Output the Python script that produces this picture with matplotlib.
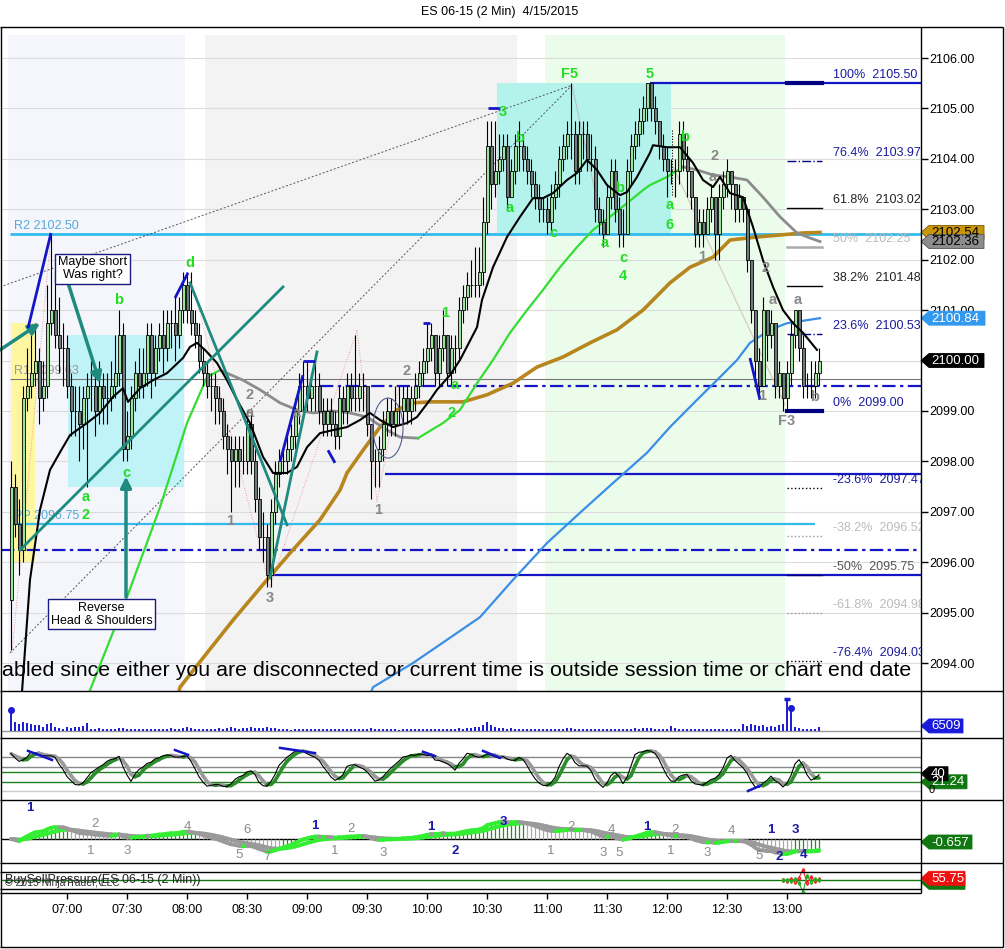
import numpy as np
import pandas as pd
import matplotlib
matplotlib.use('Agg')
import matplotlib.pyplot as plt
from matplotlib.collections import LineCollection
from matplotlib.patches import Rectangle, Ellipse, Polygon
import matplotlib.transforms as mtrans

plt.rcParams['font.family'] = ['Liberation Sans', 'DejaVu Sans']

# ------------------------------------------------------------------ data
title = "ES 06-15 (2 Min)  4/15/2015"
bar_start_min = 6 * 60 + 32          # first bar 06:32
bar_step_min = 2
first_open = 2095.25
closes = [
    2097.5, 2096.75, 2096.25, 2099.25, 2099.5, 2099.75, 2100.0, 2099.25, 2099.5, 2100.75,
    2101.0, 2100.5, 2100.25, 2100.25, 2099.5, 2099.0, 2099.0, 2098.75, 2099.25, 2099.5,
    2099.5, 2099.0, 2099.5, 2099.25, 2099.25, 2099.5, 2099.75, 2100.5, 2098.25, 2098.5,
    2099.25, 2099.75, 2099.5, 2099.75, 2100.5, 2099.75, 2100.25, 2100.5, 2100.25, 2100.75,
    2100.75, 2100.5, 2101.0, 2101.5, 2101.0, 2100.75, 2100.5, 2100.0, 2099.75, 2099.5,
    2099.5, 2099.25, 2099.0, 2098.5, 2098.25, 2098.0, 2098.25, 2098.0, 2098.0, 2098.75,
    2098.0, 2097.25, 2096.5, 2096.5, 2095.75, 2097.0, 2097.75, 2098.0, 2098.0, 2098.25,
    2098.5, 2099.0, 2099.5, 2099.5, 2099.25, 2099.5, 2099.5, 2099.0, 2098.75, 2099.0,
    2098.75, 2098.5, 2099.25, 2099.0, 2099.5, 2099.25, 2099.25, 2099.5, 2099.5, 2098.75,
    2098.0, 2098.0, 2098.25, 2098.75, 2099.0, 2098.75, 2099.0, 2099.0, 2099.25, 2099.0,
    2099.25, 2099.5, 2099.75, 2100.0, 2100.25, 2100.5, 2099.75, 2100.25, 2100.5, 2099.75,
    2100.25, 2100.25, 2101.0, 2101.25, 2101.5, 2101.5, 2101.5, 2101.75, 2102.75, 2104.25,
    2103.5, 2103.75, 2104.0, 2104.25, 2103.25, 2103.75, 2104.25, 2104.25, 2104.0, 2103.75,
    2103.5, 2103.25, 2103.0, 2103.0, 2102.75, 2103.25, 2103.5, 2104.0, 2104.25, 2104.5,
    2104.5, 2103.75, 2104.5, 2104.5, 2104.0, 2104.0, 2103.0, 2102.75, 2102.5, 2103.25,
    2103.75, 2103.0, 2102.5, 2102.5, 2103.75, 2104.25, 2104.5, 2104.75, 2105.0, 2105.5,
    2105.0, 2104.75, 2104.25, 2104.0, 2103.75, 2103.75, 2103.75, 2104.5, 2104.0, 2103.75,
    2103.25, 2102.5, 2102.75, 2102.5, 2103.0, 2103.25, 2102.5, 2103.25, 2103.5, 2103.75,
    2103.5, 2103.0, 2103.25, 2103.0, 2102.0, 2101.0, 2100.0, 2099.5, 2101.0, 2100.5,
    2100.75, 2099.5, 2099.75, 2099.25, 2099.75, 2100.5, 2101.0, 2100.25, 2099.5, 2099.5,
    2099.5, 2099.75, 2100.0,
]
highs = [
    2098.0, 2097.75, 2097.25, 2099.5, 2100.25, 2100.5, 2100.75, 2100.25, 2100.0, 2101.5,
    2102.5, 2101.75, 2101.25, 2100.75, 2100.5, 2099.75, 2099.5, 2099.5, 2099.5, 2099.75,
    2100.0, 2099.75, 2100.0, 2099.75, 2099.75, 2100.0, 2100.5, 2101.0, 2100.75, 2099.0,
    2099.5, 2100.0, 2100.25, 2100.25, 2100.75, 2100.75, 2100.5, 2100.75, 2101.0, 2101.0,
    2101.0, 2101.25, 2101.25, 2101.75, 2101.75, 2101.75, 2101.0, 2100.75, 2100.25, 2100.0,
    2099.75, 2099.75, 2099.5, 2099.25, 2098.75, 2098.5, 2098.5, 2098.5, 2098.5, 2099.0,
    2099.0, 2098.25, 2097.5, 2097.0, 2096.75, 2097.25, 2098.0, 2098.25, 2098.25, 2098.5,
    2098.75, 2099.25, 2099.75, 2100.0, 2100.0, 2099.75, 2100.0, 2099.75, 2099.25, 2099.25,
    2099.25, 2099.0, 2099.5, 2099.5, 2099.75, 2099.75, 2100.5, 2099.75, 2099.75, 2099.5,
    2098.75, 2098.25, 2098.5, 2099.0, 2099.25, 2099.25, 2099.5, 2099.5, 2099.5, 2099.5,
    2099.5, 2099.75, 2100.0, 2100.25, 2100.75, 2100.75, 2100.5, 2100.5, 2101.0, 2100.5,
    2100.5, 2100.5, 2101.25, 2101.5, 2101.75, 2102.0, 2102.25, 2102.25, 2103.25, 2104.75,
    2104.75, 2104.75, 2104.5, 2104.5, 2104.5, 2104.0, 2104.5, 2104.75, 2104.5, 2104.25,
    2104.0, 2103.75, 2103.5, 2103.25, 2103.25, 2103.5, 2103.75, 2104.25, 2104.5, 2104.75,
    2105.5, 2104.75, 2104.75, 2104.75, 2104.75, 2104.5, 2104.25, 2103.25, 2103.0, 2103.5,
    2104.0, 2104.0, 2103.25, 2103.0, 2104.0, 2104.5, 2104.75, 2105.0, 2105.25, 2105.5,
    2105.5, 2105.25, 2104.75, 2104.5, 2104.25, 2104.0, 2104.0, 2104.75, 2104.75, 2104.25,
    2103.75, 2103.25, 2103.0, 2103.0, 2103.25, 2103.5, 2103.25, 2103.5, 2103.75, 2104.0,
    2103.75, 2103.5, 2103.5, 2103.25, 2103.0, 2102.0, 2101.0, 2100.25, 2101.25, 2101.0,
    2101.0, 2100.75, 2100.0, 2099.75, 2100.0, 2100.75, 2101.0, 2101.0, 2100.5, 2099.75,
    2100.0, 2100.0, 2100.25,
]
lows = [
    2094.25, 2096.5, 2095.75, 2096.0, 2099.0, 2099.25, 2099.5, 2098.75, 2099.0, 2099.25,
    2100.5, 2100.25, 2099.75, 2099.5, 2099.25, 2098.5, 2098.5, 2098.0, 2098.25, 2097.5,
    2099.0, 2098.5, 2098.75, 2098.75, 2098.75, 2099.0, 2099.25, 2099.5, 2098.0, 2098.0,
    2098.25, 2099.0, 2099.25, 2099.25, 2099.5, 2099.25, 2099.5, 2100.0, 2099.75, 2100.0,
    2100.25, 2100.0, 2100.25, 2100.75, 2100.75, 2100.5, 2100.25, 2099.75, 2099.5, 2099.25,
    2099.0, 2098.75, 2098.75, 2098.25, 2097.75, 2097.0, 2097.5, 2097.5, 2097.75, 2097.75,
    2097.75, 2097.0, 2096.25, 2096.0, 2095.5, 2095.5, 2096.75, 2097.5, 2097.75, 2097.75,
    2098.0, 2098.25, 2098.75, 2099.0, 2099.0, 2099.0, 2099.0, 2098.75, 2098.5, 2098.5,
    2098.5, 2098.25, 2098.25, 2098.75, 2098.75, 2099.0, 2099.0, 2099.0, 2099.0, 2098.5,
    2097.25, 2097.5, 2097.5, 2098.0, 2098.5, 2098.5, 2098.5, 2098.75, 2098.75, 2098.75,
    2098.75, 2099.0, 2099.25, 2099.5, 2099.75, 2100.0, 2099.5, 2099.5, 2100.0, 2099.5,
    2099.5, 2099.75, 2100.0, 2100.75, 2101.0, 2101.25, 2101.25, 2101.25, 2101.5, 2102.5,
    2103.0, 2103.25, 2103.5, 2103.75, 2103.0, 2103.25, 2103.5, 2103.75, 2103.75, 2103.5,
    2103.25, 2103.0, 2102.75, 2102.75, 2102.5, 2102.5, 2103.0, 2103.25, 2103.75, 2104.0,
    2104.0, 2103.5, 2103.5, 2104.0, 2103.75, 2103.75, 2102.75, 2102.5, 2102.25, 2102.5,
    2103.0, 2102.75, 2102.25, 2102.25, 2102.5, 2103.5, 2104.0, 2104.25, 2104.5, 2104.75,
    2104.75, 2104.5, 2104.0, 2103.75, 2103.25, 2103.5, 2103.25, 2103.5, 2103.75, 2103.25,
    2103.0, 2102.25, 2102.25, 2102.25, 2102.5, 2102.75, 2102.0, 2102.0, 2103.0, 2103.25,
    2103.0, 2102.75, 2102.75, 2102.75, 2101.75, 2100.75, 2099.5, 2099.25, 2099.5, 2100.0,
    2100.25, 2099.25, 2099.25, 2099.0, 2099.0, 2099.5, 2100.25, 2100.0, 2099.25, 2099.25,
    2099.25, 2099.25, 2099.5,
]
volumes = [
    34000, 14000, 11000, 14500, 12500, 11000, 9500, 9500, 6500, 11000,
    12500, 6500, 5000, 2500, 6000, 5000, 6000, 6000, 7500, 12500,
    4000, 3500, 4500, 3000, 3500, 4000, 3000, 4500, 5500, 3500,
    3000, 3500, 3000, 3000, 4000, 2500, 3000, 3000, 3500, 3000,
    4500, 3500, 3000, 5000, 6500, 4500, 3500, 3000, 3500, 2500,
    3000, 3500, 4500, 4000, 5500, 6000, 4500, 4000, 5000, 4500,
    7000, 5500, 5000, 5000, 6000, 5500, 4500, 4000, 3500, 3000,
    1500, 2500, 3000, 4000, 3500, 3000, 3500, 2500, 3000, 2500,
    3000, 2500, 3500, 3000, 2500, 3000, 4000, 3000, 2500, 3500,
    4500, 4000, 3500, 3000, 2500, 3000, 2500, 2000, 3000, 2500,
    3000, 2500, 3000, 3500, 3000, 4000, 3500, 3000, 3000, 3500,
    3000, 3500, 4500, 4000, 4500, 5000, 6000, 6500, 9000, 14500,
    10000, 6000, 5000, 4500, 4000, 4500, 3500, 3500, 3000, 3500,
    3000, 3000, 2500, 3500, 3000, 3000, 3500, 3000, 4000, 4500,
    5000, 4000, 3500, 3000, 3500, 3000, 3500, 4000, 3500, 3000,
    4000, 3500, 3000, 3000, 3500, 4000, 4500, 4000, 4500, 5000,
    4500, 4000, 3500, 3500, 3000, 8500, 5000, 3500, 3000, 3500,
    3000, 3500, 3000, 4000, 3000, 3500, 4000, 3500, 3000, 3500,
    4000, 3500, 4000, 11000, 8500, 10500, 9500, 8000, 9000, 6500,
    7500, 6500, 10000, 11500, 51000, 37000, 6500, 4500, 3500, 3000,
    3500, 3000, 6509,
]

# moving averages (time in minutes after midnight, price)
fast_ma_t = [396.5, 401.5, 406.5, 411.5, 416.5, 421.5, 430, 436.5, 443, 448, 450.5, 456.5, 463, 470,
             478, 481.5, 485, 489, 495, 500, 505, 511.5, 518, 523, 530, 535, 540, 546.5, 553, 560,
             566.5, 571.5, 576.5, 583, 590, 595, 601.5, 605, 611.5, 616.5, 625, 627.5, 633, 640,
             646.5, 653, 658, 663, 670, 675, 680, 685, 690, 696.5, 700, 705, 711.5, 713, 720, 726.5,
             733, 738, 743, 746.5, 751.5, 758, 763, 768, 773, 778, 783, 788, 795]
fast_ma_p = [2092.87, 2095.65, 2097.04, 2097.83, 2098.18, 2098.52, 2098.76, 2098.96, 2099.28, 2099.45,
             2099.18, 2099.45, 2099.61, 2099.75, 2100.05, 2100.27, 2100.35, 2100.21, 2099.95, 2099.61,
             2099.22, 2098.76, 2098.09, 2097.77, 2097.77, 2097.89, 2098.28, 2098.56, 2098.62, 2098.68,
             2098.82, 2098.96, 2098.82, 2098.68, 2098.76, 2098.88, 2099.22, 2099.42, 2099.71, 2100.01,
             2100.66, 2101.20, 2101.85, 2102.45, 2102.85, 2103.22, 2103.22, 2103.32, 2103.58, 2103.72,
             2103.98, 2103.78, 2103.48, 2103.28, 2103.34, 2103.64, 2104.12, 2104.27, 2104.23, 2104.23,
             2103.92, 2103.58, 2103.44, 2103.64, 2103.32, 2103.24, 2102.65, 2101.99, 2101.46, 2101.00,
             2100.74, 2100.55, 2100.21]
mid_up1_t = [425.5, 431.5, 450, 466.5, 480, 490, 496.5]
mid_up1_p = [2092.87, 2093.46, 2095.31, 2097.09, 2098.76, 2099.67, 2099.81]
mid_dn1_t = [496.5, 508, 516.5, 526.5, 535, 543, 553, 561.5, 570, 580, 586.5, 595.5]
mid_dn1_p = [2099.81, 2099.61, 2099.42, 2099.16, 2099.02, 2098.96, 2099.0, 2098.96, 2098.88,
             2098.62, 2098.48, 2098.46]
mid_up2_t = [595.5, 608, 616.5, 625, 633, 641.5, 650, 658, 666.5, 675, 683, 691.5, 700, 708, 711.5,
             720, 728]
mid_up2_p = [2098.46, 2098.76, 2099.02, 2099.55, 2100.01, 2100.55, 2101.00, 2101.40, 2101.85,
             2102.25, 2102.59, 2102.85, 2103.12, 2103.38, 2103.48, 2103.64, 2103.84]
mid_dn2_t = [728, 735, 743, 751.5, 760, 768, 776.5, 785, 791.5, 796.5]
mid_dn2_p = [2103.84, 2103.78, 2103.68, 2103.64, 2103.58, 2103.24, 2102.85, 2102.53, 2102.43, 2102.36]
slow_ma_t = [472.5, 476.5, 490, 503, 520, 531.5, 546.5, 556.5, 560, 568, 576.5, 585, 593, 601.5, 618,
             630, 643, 655, 668, 681.5, 695, 708, 721.5, 731.5, 743, 751.5, 765, 776.5, 788, 796.5]
slow_ma_p = [2092.87, 2093.52, 2094.20, 2094.85, 2095.65, 2096.18, 2096.84, 2097.43, 2097.77, 2098.22,
             2098.68, 2099.02, 2099.16, 2099.18, 2099.18, 2099.32, 2099.55, 2099.87, 2100.07, 2100.35,
             2100.61, 2101.00, 2101.54, 2101.85, 2102.05, 2102.39, 2102.45, 2102.49, 2102.53, 2102.54]
long_ma_t = [566.5, 573, 593, 610, 626.5, 643, 660, 676.5, 693, 710, 721.5, 735, 746.5, 755, 761.5,
             771.5, 780, 790, 796.5]
long_ma_p = [2092.87, 2093.52, 2094.00, 2094.46, 2094.91, 2095.65, 2096.38, 2096.98, 2097.57, 2098.17,
             2098.68, 2099.22, 2099.67, 2100.01, 2100.35, 2100.61, 2100.74, 2100.80, 2100.84]

pivots = {"R2": 2102.50, "R1": 2099.63, "PP": 2096.75}
fib_high, fib_low = 2105.50, 2099.00
fib_levels = [1.0, 0.764, 0.618, 0.5, 0.382, 0.236, 0.0, -0.236, -0.382, -0.5, -0.618, -0.764]
time_ticks = ["07:00", "07:30", "08:00", "08:30", "09:00", "09:30", "10:00", "10:30",
              "11:00", "11:30", "12:00", "12:30", "13:00"]
last_tags = {"close": 2100.00, "long": 2100.84, "mid": 2102.36, "slow": 2102.54}
message = ("abled since either you are disconnected or current time is outside session "
           "time or chart end date")

# ------------------------------------------------------------------ derived
n = len(closes)
t = bar_start_min + bar_step_min * np.arange(n)
C = np.array(closes, float)
O = np.concatenate([[first_open], C[:-1]])
Hh = np.maximum(np.array(highs, float), np.maximum(O, C))
Ll = np.minimum(np.array(lows, float), np.minimum(O, C))
V = np.array(volumes, float)

W, H = 1005, 949
fig = plt.figure(figsize=(W / 100, H / 100), dpi=100)
fig.patch.set_facecolor('white')


def rect(x0, y0, x1, y1):
    return [x0 / W, 1 - y1 / H, (x1 - x0) / W, (y1 - y0) / H]


XL = (387.0, 847.0)
ax = fig.add_axes(rect(1, 27, 921, 691))
axv = fig.add_axes(rect(1, 691, 921, 738))
axs = fig.add_axes(rect(1, 738, 921, 800))
axm = fig.add_axes(rect(1, 800, 921, 863))
axb = fig.add_axes(rect(1, 863, 921, 893))
for a in (ax, axv, axs, axm, axb):
    a.set_xlim(*XL)
    for s in a.spines.values():
        s.set_visible(False)
    a.tick_params(left=False, labelleft=False, bottom=False, labelbottom=False)
    a.set_facecolor('white')

PB, PT = 2093.445, 2106.615
ax.set_ylim(PB, PT)
ax.yaxis.tick_right()
yt = np.arange(2094, 2107)
ax.set_yticks(yt)
# the 2100.00 tick label sits under the last-price tag, as in the platform
ax.set_yticklabels(["" if v == 2100 else f"{v:.2f}" for v in yt])
ax.tick_params(axis='y', right=True, labelright=True, direction='out', length=5, width=1,
               pad=1, labelsize=9, colors='black')

TEAL = '#1F8A80'
BLUE = '#1515C8'
NAVY = '#000080'
LGREEN = '#22DD22'
GRAYL = '#888888'

# backgrounds
shade_top = 2106.46
for t0, t1, col in [(390.5, 479, '#F4F6FB'), (489, 645, '#F3F3F3'), (659, 779, '#EBFCEB')]:
    ax.add_patch(Rectangle((t0, PB), t1 - t0, shade_top - PB, fc=col, ec='none', zorder=0.2))
ax.hlines(yt, XL[0], XL[1], color='#DCDCDC', lw=0.8, zorder=0.5)
ax.add_patch(Rectangle((420.5, 2097.5), 58, 3.0, fc='#BFF3F8', ec='none', zorder=0.8))
ax.add_patch(Rectangle((392, 2096.0), 12, 4.74, fc='#FFF7A0', ec='none', zorder=0.8))
ax.add_patch(Rectangle((635, 2102.5), 87, 3.0, fc='#B3F3EC', ec='none', zorder=0.8))

# pivot lines
ax.hlines(pivots["R2"], 391.5, XL[1], color='#33BBEE', lw=2, zorder=1.5)
ax.hlines(pivots["R1"], 391.5, XL[1], color='#777777', lw=0.8, zorder=1.5)
ax.hlines(pivots["PP"], 391.5, 794, color='#33BBEE', lw=1.6, zorder=1.5)
ax.text(393.5, pivots["R2"] + 0.05, f"R2 {pivots['R2']:.2f}", color='#55AADD', fontsize=9,
        va='bottom', ha='left', zorder=1.6)
ax.text(393.5, pivots["R1"] + 0.05, f"R1 {pivots['R1']:.2f}", color='#999999', fontsize=9,
        va='bottom', ha='left', zorder=1.6)
ax.text(393.5, pivots["PP"] + 0.05, f"PP {pivots['PP']:.2f}", color='#55AADD', fontsize=9,
        va='bottom', ha='left', zorder=1.6)

# horizontal support/resistance lines
ax.hlines(2096.25, XL[0], XL[1], color=BLUE, lw=1.6, linestyles=(0, (6, 2, 1.5, 2)), zorder=1.6)
ax.hlines(2099.5, 546.5, XL[1], color=BLUE, lw=1.6, linestyles=(0, (6, 2, 1.5, 2)), zorder=1.6)
ax.hlines(2097.75, 579, XL[1], color=BLUE, lw=1.6, zorder=1.6)
ax.hlines(2095.75, 521.5, XL[1], color=BLUE, lw=1.6, zorder=1.6)
ax.hlines(2105.5, 711.5, XL[1], color=BLUE, lw=1.6, zorder=1.6)

# dashed trend lines converging on F5
ax.plot([386.5, 672.5], [2101.46, 2105.46], color='#555555', lw=0.7, ls=(0, (2, 2)), zorder=1.7)
ax.plot([391.5, 672.5], [2094.20, 2105.46], color='#555555', lw=0.7, ls=(0, (2, 2)), zorder=1.7)
ax.plot([672.5, 689], [2105.46, 2102.45], color='#BBBBBB', lw=0.7, zorder=1.7)
ax.plot([723, 779], [2103.84, 2099.12], color='#D8C8B8', lw=0.8, zorder=1.7)
ax.plot([722.5, 722.5], [2104.57, 2103.28], color='black', lw=0.8, ls=(0, (1, 1.5)), zorder=1.7)
for xs, ys in [([392.5, 412], [2094.2, 2102.5]), ([481.5, 521.5], [2101.7, 2095.5]),
               ([521.5, 565], [2095.5, 2100.6]), ([565, 575], [2100.6, 2097.2]),
               ([575, 586], [2097.2, 2099.5])]:
    ax.plot(xs, ys, color='#F08080', lw=0.6, ls=(0, (1, 2)), zorder=1.7)

# fibonacci
fib_style = {1.0: (NAVY, '-', 3), 0.764: (NAVY, '-.', 1), 0.618: ('black', '-', 1),
             0.5: ('#AAAAAA', '-', 1.8), 0.382: ('black', '-', 1), 0.236: (NAVY, '-.', 1),
             0.0: (NAVY, '-', 3), -0.236: ('black', ':', 1), -0.382: ('#999999', ':', 1),
             -0.5: (NAVY, '-', 1), -0.618: ('#999999', ':', 1), -0.764: ('black', ':', 1)}
fib_tcol = {1.0: '#1A1AA0', 0.764: '#1A1AA0', 0.618: '#222222', 0.5: '#BBBBBB', 0.382: '#222222',
            0.236: '#1A1AA0', 0.0: '#1A1AA0', -0.236: '#1A1AA0', -0.382: '#BBBBBB',
            -0.5: '#555555', -0.618: '#BBBBBB', -0.764: '#1A1AA0'}
for lv in fib_levels:
    p = fib_low + lv * (fib_high - fib_low)
    col, ls, lw = fib_style[lv]
    ax.plot([780, 797.5], [p, p], color=col, ls=ls, lw=lw, zorder=2)
    pct = f"{lv * 100:.1f}".rstrip('0').rstrip('.')
    ax.text(803, p + 0.04, f"{pct}%  {p:.2f}", color=fib_tcol[lv], fontsize=9, ha='left',
            va='bottom', zorder=2, clip_on=True)

# moving averages
ax.plot(long_ma_t, long_ma_p, color='#3A8EE6', lw=1.6, zorder=3)
ax.plot(slow_ma_t, slow_ma_p, color='#B8861E', lw=2.6, zorder=3)
ax.plot(mid_up1_t, mid_up1_p, color='#33DD33', lw=1.6, zorder=3)
ax.plot(mid_dn1_t, mid_dn1_p, color='#8C8C8C', lw=2.0, zorder=3)
ax.plot(mid_up2_t, mid_up2_p, color='#33DD33', lw=1.6, zorder=3)
ax.plot(mid_dn2_t, mid_dn2_p, color='#8C8C8C', lw=2.0, zorder=3)

# candles
up = C >= O
ax.vlines(t, Ll, Hh, color='black', lw=0.8, zorder=4)
body_col = np.where(up, '#99E699', '#6F7B7B')
ax.bar(t, C - O, bottom=O, width=1.5, color=body_col, edgecolor='black', linewidth=0.6, zorder=5)

ax.plot(fast_ma_t, fast_ma_p, color='black', lw=1.5, zorder=6)

# arrows & lines
def arrow(a, b, col=TEAL, lw=2.5):
    ax.annotate('', xy=b, xytext=a, zorder=7,
                arrowprops=dict(arrowstyle='-|>', color=col, lw=lw, mutation_scale=16,
                                shrinkA=0, shrinkB=0))

ax.plot([396.5, 528], [2096.24, 2101.46], color=TEAL, lw=2, zorder=7)
ax.plot([481.5, 530], [2101.54, 2096.74], color=TEAL, lw=2, zorder=7)
ax.plot([521.5, 545], [2095.69, 2100.17], color=TEAL, lw=2, zorder=7)
arrow((386.5, 2100.21), (406.5, 2100.74))
arrow((420.5, 2101.54), (436.5, 2099.55))
arrow((449.5, 2095.31), (449.5, 2097.70))
for xs, ys in [([400.5, 412], [2100.64, 2102.53]), ([474, 480.5], [2101.24, 2101.74]),
               ([526.5, 538], [2097.99, 2099.71]), ([538, 544], [2099.99, 2099.99]),
               ([550.5, 554], [2098.22, 2097.97]), ([598, 601.5], [2100.74, 2100.74]),
               ([630.5, 636.5], [2105.01, 2105.01]), ([761.5, 766.5], [2100.05, 2099.22])]:
    ax.plot(xs, ys, color=BLUE, lw=2, zorder=7, solid_capstyle='butt')
ax.add_patch(Ellipse((580.5, 2098.66), 15, 1.19, angle=0, fc='none', ec='#5A5A90', lw=0.8, zorder=7))

# wave labels
green_labels = [('d', 481.5, 2101.93), ('b', 446, 2101.20), ('a', 429.5, 2097.29),
                ('2', 429.5, 2096.94), ('c', 449.5, 2097.77), ('F5', 671.5, 2105.68),
                ('5', 711.5, 2105.68), ('3', 638, 2104.93), ('b', 646.5, 2104.41),
                ('a', 641.5, 2103.02), ('c', 663, 2102.53), ('a', 689, 2102.33),
                ('b', 696.5, 2103.42), ('c', 698, 2102.03), ('4', 698, 2101.68),
                ('b', 729, 2104.43), ('a', 721.5, 2103.08), ('6', 721.5, 2102.69),
                ('1', 609, 2100.94), ('a', 614, 2099.51), ('2', 612.5, 2098.96)]
gray_labels = [('2', 511.5, 2099.32), ('a', 511.5, 2098.96), ('1', 501.5, 2096.82),
               ('3', 521.5, 2095.29), ('a', 535, 2098.96), ('2', 590, 2099.79),
               ('1', 575.5, 2097.04), ('2', 744, 2104.06), ('a', 743, 2103.64),
               ('1', 737.5, 2102.05), ('2', 769.5, 2101.83), ('a', 773, 2101.20),
               ('a', 785.5, 2101.20), ('1', 767.5, 2099.30), ('b', 794, 2099.28),
               ('F3', 780, 2098.80)]
for s, x, y in green_labels:
    ax.text(x, y, s, color=LGREEN, fontsize=10.5, fontweight='bold', ha='center', va='center',
            zorder=8)
for s, x, y in gray_labels:
    ax.text(x, y, s, color=GRAYL, fontsize=10.5, fontweight='bold', ha='center', va='center',
            zorder=8)

box = dict(boxstyle='square,pad=0.2', fc='white', ec='#1A1A80', lw=1)
ax.text(432.75, 2101.82, "Maybe short\nWas right?", fontsize=9, ha='center', va='center',
        bbox=box, zorder=9, linespacing=1.1)
ax.text(437.25, 2094.97, "Reverse\nHead & Shoulders", fontsize=9, ha='center', va='center',
        bbox=box, zorder=9, linespacing=1.1)
ax.text(387.5, 2093.86, message, fontsize=15.4, ha='left', va='center', color='black',
        zorder=9, clip_on=True)

# ------------------------------------------------------------------ volume
VB, VT = -11200, 64000
axv.set_ylim(VB, VT)
axv.axhline(0, color='#999999', lw=1, zorder=1)
axv.vlines(t, 0, V, color='#1A1AD0', lw=1.4, zorder=2)
big = V > 30000
axv.plot(t[big][:1], V[big][:1], 'o', color='#1A1AD0', ms=4, zorder=3)
axv.plot(t[big][1:2], V[big][1:2], '_', color='#1A1AD0', ms=5, mew=2.5, zorder=3)
axv.plot(t[big][2:], V[big][2:], 'o', color='#1A1AD0', ms=4, zorder=3)

# ------------------------------------------------------------------ stochastics
Cs, Hs, Ls = pd.Series(C), pd.Series(Hh), pd.Series(Ll)
ll = Ls.rolling(9, min_periods=1).min()
hh = Hs.rolling(9, min_periods=1).max()
rng = (hh - ll).replace(0, np.nan)
k = (100 * (Cs - ll) / rng).fillna(50)
k_s = k.rolling(3, min_periods=1).mean().values
d_s = pd.Series(k_s).rolling(3, min_periods=1).mean().values
axs.set_ylim(-21, 123)
for lvl, col in [(80, '#888888'), (56, '#888888'), (44, '#1F7F1F'), (20, '#1F7F1F'),
                 (0, '#CCCCCC')]:
    axs.axhline(lvl, color=col, lw=1, zorder=1)


def slope_line(a, x, v, upc, dnc, lw, z):
    pts = np.column_stack([x, v])
    segs = np.stack([pts[:-1], pts[1:]], axis=1)
    cols = [upc if v[i + 1] >= v[i] else dnc for i in range(len(v) - 1)]
    a.add_collection(LineCollection(segs, colors=cols, linewidths=lw, capstyle='round',
                                    zorder=z))


slope_line(axs, t, d_s, '#2A8F2A', '#9A9A9A', 2.6, 2)
axs.plot(t, k_s, color='black', lw=0.8, zorder=3)
for xs, ys in [([400.5, 412.5], [93, 72]), ([474, 480.5], [95, 84]), ([526.5, 544], [100, 88]),
               ([598, 604], [91, 81]), ([628, 636.5], [93, 77]), ([760.5, 766.5], [0, 12])]:
    axs.plot(xs, ys, color=BLUE, lw=1.8, zorder=4)

# ------------------------------------------------------------------ MACD-style panel
ema12 = Cs.ewm(span=12, adjust=False).mean()
ema26 = Cs.ewm(span=26, adjust=False).mean()
macd = (ema12 - ema26).values
sig = pd.Series(macd).ewm(span=9, adjust=False).mean().values
P = max(np.abs(macd).max(), 1e-6)
span = P / 0.28
axm.set_ylim(-0.381 * span, 0.619 * span)
axm.axhline(0, color='black', lw=1, zorder=1)
hcol = np.where(macd >= sig, '#1F8F1F', '#A8A8A8')
axm.vlines(t, 0, macd, colors=hcol, lw=0.9, zorder=2)
slope_line(axm, t, sig, '#33EE33', '#9A9A9A', 2.8, 3)
slope_line(axm, t, macd, '#33EE33', '#9A9A9A', 2.8, 3)
wave_blue = [('1', 401.5, 0.873), ('1', 544, 0.587), ('1', 602, 0.571), ('2', 614, 0.19),
             ('3', 638, 0.651), ('1', 710, 0.571), ('1', 772, 0.524), ('2', 776, 0.095),
             ('3', 784, 0.524), ('4', 788, 0.127)]
wave_gray = [('2', 434, 0.619), ('1', 432, 0.19), ('3', 450, 0.19), ('4', 480, 0.571),
             ('6', 510, 0.524), ('5', 506, 0.127), ('7', 520, 0.095), ('2', 562, 0.54),
             ('1', 554, 0.19), ('3', 578, 0.159), ('2', 672, 0.571), ('1', 662, 0.19),
             ('4', 692, 0.524), ('3', 688, 0.159), ('5', 696, 0.159), ('2', 724, 0.524),
             ('1', 722, 0.19), ('3', 740, 0.159), ('4', 752, 0.508), ('5', 766, 0.111)]
btr = mtrans.blended_transform_factory(axm.transData, axm.transAxes)
for s, x, y in wave_blue:
    axm.text(x, y, s, color='#1A1AAA', fontsize=9.5, fontweight='bold', ha='center',
             va='center', transform=btr, zorder=5, clip_on=True)
for s, x, y in wave_gray:
    axm.text(x, y, s, color='#8A8A8A', fontsize=9.5, ha='center', va='center', transform=btr,
             zorder=5, clip_on=True)

# ------------------------------------------------------------------ buy/sell pressure
bsp_red = [50, 48, 55, 45, 58, 85, 40, 60, 47, 52]
bsp_green = [50, 50, 48, 52, 40, 10, 65, 45, 52, 50]
axb.set_ylim(6.7, 106.7)
axb.axhline(50, color='#117711', lw=1, zorder=1)
axb.plot(t[-10:], bsp_red, color='#EE2222', lw=0.8, marker='d', ms=2, mfc='none', zorder=3)
axb.plot(t[-10:], bsp_green, color='#22AA22', lw=0.8, marker='d', ms=2, mfc='none', zorder=3)
axb.text(389, 50, "BuySellPressure(ES 06-15 (2 Min))", fontsize=9, color='#222222',
         ha='left', va='center', zorder=4)
axb.text(389, 40, "\u00a9 2015 NinjaTrader, LLC", fontsize=7.5, color='#333333', ha='left',
         va='center', zorder=4)
tick_pos = [int(s[:2]) * 60 + int(s[3:]) for s in time_ticks]
axb.set_xticks(tick_pos)
axb.set_xticklabels(time_ticks)
axb.tick_params(axis='x', bottom=True, labelbottom=True, direction='out', length=4, width=1,
                pad=4, labelsize=9, colors='black')

# ------------------------------------------------------------------ overlay (frames, tags)
ov = fig.add_axes([0, 0, 1, 1], zorder=20)
ov.set_xlim(0, W)
ov.set_ylim(H, 0)
ov.axis('off')
ov.patch.set_alpha(0)

def L(x0, y0, x1, y1, lw=1, c='black'):
    ov.plot([x0, x1], [y0, y1], color=c, lw=lw, solid_capstyle='butt')

L(0, 27, 1003, 27)
L(0.5, 27, 0.5, 947)
L(1003, 27, 1003, 947)
L(0, 947, 1003, 947)
L(921, 27, 921, 893)
for yy in (691, 738, 800, 863):
    L(0, yy, 1003, yy)
L(0, 872, 921, 872)
L(0, 889, 921, 889)
L(0, 893, 921, 893)
ov.text(500, 12, title, fontsize=9, ha='center', va='center', color='black')


def ypx(a, v):
    return H - a.transData.transform((a.get_xlim()[0], v))[1]


def tag(y, text, fc, tc, x1=984, h=14, ec=None):
    x0 = 921
    poly = [(x0, y), (x0 + 8, y - h / 2), (x1, y - h / 2), (x1, y + h / 2), (x0 + 8, y + h / 2)]
    ov.add_patch(Polygon(poly, closed=True, fc=fc, ec=ec or fc, lw=0.6))
    ov.text(x0 + 10, y + 0.5, text, color=tc, fontsize=9.5, va='center', ha='left')


tag(ypx(ax, last_tags["slow"]), f"{last_tags['slow']:.2f}", '#C8960A', 'black', ec='#7A5A00')
tag(ypx(ax, last_tags["mid"]), f"{last_tags['mid']:.2f}", '#8C8C8C', 'black', ec='#555555')
tag(ypx(ax, last_tags["long"]), f"{last_tags['long']:.2f}", '#3399EE', 'white', x1=985)
tag(ypx(ax, last_tags["close"]), f"{last_tags['close']:.2f}", 'black', 'white')
tag(ypx(axv, 6509) - 1, "6509", '#1A1ADD', 'white', x1=963)
ov.text(929, 790, "0", fontsize=8, va='center', ha='left', color='black')
tag(ypx(axs, 21.24), "21.24", '#117711', 'white', x1=967)
tag(ypx(axs, 40), "40", 'black', 'white', x1=948)
tag(842, "-0.657", '#117711', 'white', x1=972)
tag(ypx(axb, 55.75) + 4, "", '#117711', 'white', x1=965)
tag(ypx(axb, 55.75), "55.75", '#EE1111', 'white', x1=965)

fig.savefig('out.png', dpi=100)
